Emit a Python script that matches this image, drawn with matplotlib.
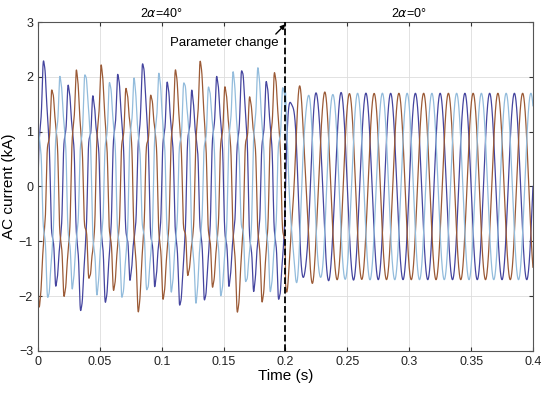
import numpy as np
import matplotlib.pyplot as plt

plt.rcParams['font.family'] = ['Liberation Sans', 'DejaVu Sans']

# ---- data ----
f_grid = 50.0                          # Hz, three phases 120 deg apart
phase_names = ['a', 'b', 'c']
phase_shift_deg = [0, -120, 120]
phase_colors = ['#45459f', '#9b5a36', '#93bcdc']

t_change = 0.2                         # s, parameter change instant
t_end = 0.4

# before the change (2alpha = 40 deg): modulated fundamental + harmonics
amp_fund_before = 1.82                 # kA
mod_freqs = [37.0, 61.0]               # Hz, envelope variation of the peaks
mod_depths = [0.12, 0.08]
harm_orders = [5, 7, 11]
harm_amps = [0.18, 0.07, 0.03]         # kA
harm_phase_deg = [15, -30, 0]

# after the change (2alpha = 0 deg): clean sinusoid, short transient
amp_fund_after = 1.70                  # kA
transient_amp = 0.30                   # kA
transient_freq = 140.0                 # Hz
transient_tau = 0.015                  # s

sample_rate = 20000                    # points per second for the trace

t = np.linspace(0, t_end, int(t_end * sample_rate) + 1)

fig, ax = plt.subplots(figsize=(5.5, 3.93), dpi=100)
fig.subplots_adjust(left=0.069, right=0.969, bottom=0.107, top=0.944)

w = 2 * np.pi * f_grid
for k, (name, shift, col) in enumerate(zip(phase_names, phase_shift_deg, phase_colors)):
    ph = np.deg2rad(shift)
    env = np.ones_like(t)
    for fm, m in zip(mod_freqs, mod_depths):
        env += m * np.sin(2 * np.pi * fm * t + 2.1 * k)
    i_before = amp_fund_before * env * np.sin(w * t + ph)
    for n, a, p in zip(harm_orders, harm_amps, harm_phase_deg):
        i_before += a * np.sin(n * (w * t + ph) + np.deg2rad(p))
    decay = np.exp(-(t - t_change) / transient_tau)
    i_after = (amp_fund_after * np.sin(w * t + ph)
               + transient_amp * decay * np.sin(2 * np.pi * transient_freq * t + ph))
    i = np.where(t < t_change, i_before, i_after)
    ax.plot(t, i, color=col, linewidth=0.9)

ax.axvline(t_change, color='black', linestyle='--', linewidth=1.3, zorder=5)
ax.annotate('Parameter change', xy=(t_change, 2.96), xytext=(0.1505, 2.62),
            ha='center', va='center', fontsize=9.5,
            arrowprops=dict(arrowstyle='-|>', color='black', lw=1,
                            mutation_scale=7, shrinkA=0, shrinkB=0,
                            relpos=(0.95, 1.0)))

ax.text(0.1, 3.03, r'2$\alpha$=40°', ha='center', va='bottom', fontsize=9)
ax.text(0.3, 3.03, r'2$\alpha$=0°', ha='center', va='bottom', fontsize=9)

ax.set_xlim(0, t_end)
ax.set_ylim(-3, 3)
ax.set_xticks([0, 0.05, 0.1, 0.15, 0.2, 0.25, 0.3, 0.35, 0.4])
ax.set_xticklabels(['0', '0.05', '0.1', '0.15', '0.2', '0.25', '0.3', '0.35', '0.4'])
ax.set_yticks(np.arange(-3, 4, 1))
ax.tick_params(direction='in', labelsize=9, length=3, top=True, right=True,
               colors='#333333', labelcolor='#222222')
ax.grid(True, color='#dddddd', linewidth=0.6)
ax.set_axisbelow(True)
for s in ax.spines.values():
    s.set_color('#555555')
    s.set_linewidth(0.8)

ax.set_xlabel('Time (s)', fontsize=11, labelpad=1)
ax.set_ylabel('AC current (kA)', fontsize=11, labelpad=2)

plt.savefig('out.png', dpi=100)
